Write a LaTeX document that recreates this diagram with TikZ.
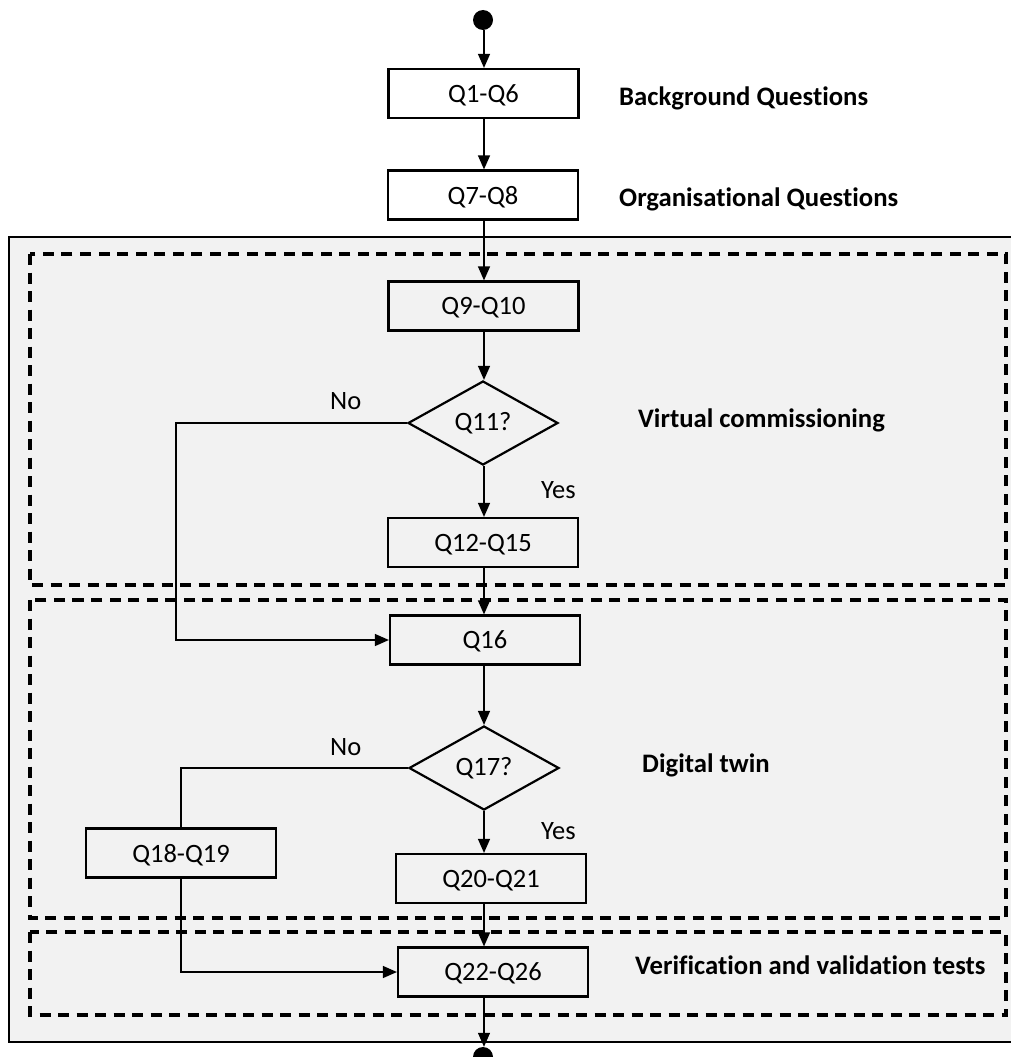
\documentclass[tikz,border=0pt]{standalone}
\usepackage{fontspec}
\setmainfont[Ligatures=NoCommon]{Carlito}
\usetikzlibrary{shapes.geometric,arrows.meta}
\definecolor{panel}{HTML}{F2F2F2}
\begin{document}
\begin{tikzpicture}[x=1pt,y=-1pt,
  box/.style={draw,line width=2.2pt,minimum width=190pt,minimum height=49pt,inner sep=0pt,text depth=0pt,font=\fontsize{26.5}{30}\selectfont},
  dec/.style={draw,diamond,line width=2.2pt,minimum width=150pt,minimum height=84pt,inner sep=0pt,font=\fontsize{26.5}{30}\selectfont},
  conn/.style={line width=1.3pt,-{Triangle[width=12pt,length=14pt]}},
  plainline/.style={line width=1.3pt},
  lab/.style={font=\fontsize{26.7}{30}\selectfont\bfseries,anchor=base west,inner sep=0pt},
  yn/.style={font=\fontsize{26.5}{30}\selectfont,anchor=base west,inner sep=0pt},
  region/.style={draw,dash pattern=on 11pt off 7.5pt,line width=3.2pt},
  dotnode/.style={circle,fill=black,minimum size=20pt,inner sep=0pt}]
\useasboundingbox (0,0) rectangle (1010,1057);
% outer panel
\draw[line width=2.4pt,fill=panel] (9,237) rectangle (1016,1042);
% dashed regions
\draw[region] (30,254) rectangle (1006,585);
\draw[region] (30,600) rectangle (1006,918);
\draw[region] (30,932) rectangle (1006,1015);
% nodes
\node[dotnode] (start) at (483,20) {};
\node[box] (q1) at (483.5,93.5) {Q1-Q6};
\node[box] (q7) at (483,195) {Q7-Q8};
\node[box] (q9) at (483.5,306) {Q9-Q10};
\node[dec] (q11) at (483,423) {Q11?};
\node[box] (q12) at (483,542.5) {Q12-Q15};
\node[box] (q16) at (485,640) {Q16};
\node[dec] (q17) at (484,768) {Q17?};
\node[box] (q18) at (181,853) {Q18-Q19};
\node[box] (q20) at (491,878.5) {Q20-Q21};
\node[box] (q22) at (493,972) {Q22-Q26};
\node[dotnode] (end) at (483,1057) {};
\coordinate (sp) at (484,0);
\coordinate (nx) at (176,0);
% connectors
\draw[conn] (start.south -| sp) -- (q1.north -| sp);
\draw[conn] (q1.south -| sp) -- (q7.north -| sp);
\draw[conn] (q7.south -| sp) -- (q9.north -| sp);
\draw[conn] (q9.south -| sp) -- (q11.north -| sp);
\draw[conn] (q11.south -| sp) -- (q12.north -| sp);
\draw[conn] (q12.south -| sp) -- (q16.north -| sp);
\draw[conn] (q16.south -| sp) -- (q17.north -| sp);
\draw[conn] (q17.south -| sp) -- (q20.north -| sp);
\draw[conn] (q20.south -| sp) -- (q22.north -| sp);
\draw[conn] (q22.south -| sp) -- (end.north -| sp);
\draw[conn] (q11.west) -- (nx |- q11.west) |- (q16.west);
\draw[plainline] (q17.west) -| (q18.north);
\draw[conn] (q18.south) |- (q22.west);
% labels
\node[yn] (no1) at (330,409) {No};
\node[yn] (yes1) at (541,498) {Yes};
\node[yn] (no2) at (330,755) {No};
\node[yn] (yes2) at (541,839) {Yes};
\node[lab] (l1) at (619,105) {Background Questions};
\node[lab] (l2) at (619,206) {Organisational Questions};
\node[lab] (l3) at (638,427) {Virtual commissioning};
\node[lab] (l4) at (642,772) {Digital twin};
\node[lab] (l5) at (635,974) {Verification and validation tests};
\end{tikzpicture}
\end{document}
